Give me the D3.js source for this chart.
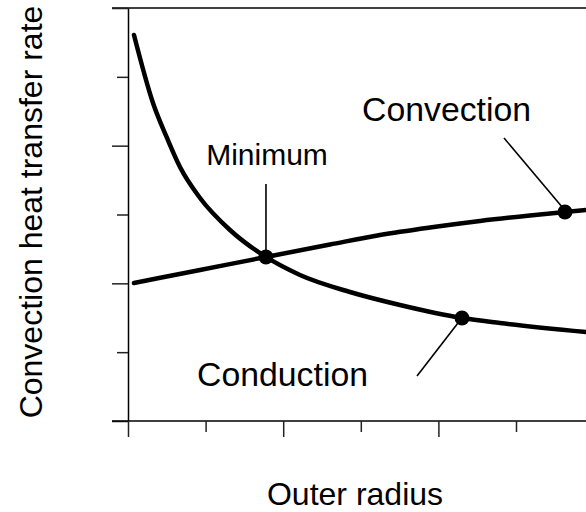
<!DOCTYPE html>
<html><head><meta charset="utf-8">
<script src="https://cdn.jsdelivr.net/npm/d3@7"></script>
<style>body{margin:0;background:#fff}svg{display:block}text{font-family:"Liberation Sans",Arial,sans-serif;fill:#000}</style>
</head><body><svg id="c" width="586" height="512"></svg>
<script>
// Data (arbitrary units)
const conductionX = [0.077,0.322,0.503,0.670,0.928,1.314,1.778,2.216,2.861,3.505,4.304,4.794,5.902];
const conductionY = [5.608,4.620,4.112,3.690,3.240,2.775,2.383,2.121,1.874,1.685,1.496,1.424,1.293];
const convectionX = [0.077,0.928,1.778,2.603,3.247,3.892,4.536,5.180,5.631,5.902];
const convectionY = [2.005,2.194,2.383,2.564,2.702,2.811,2.906,2.986,3.036,3.065];
const markerX = [1.778,4.304,5.631];
const markerY = [2.383,1.496,3.036];
const xTicks = [0,1,2,3,4,5,6];
const yTicks = [0,1,2,3,4,5,6];
const labels = ["Minimum","Conduction","Convection"];
const xTitle = "Outer radius";
const yTitle = "Convection heat transfer rate";

const svg = d3.select("#c");
const x = d3.scaleLinear().domain([0,6]).range([128,593.6]);
const y = d3.scaleLinear().domain([0,6]).range([421,8]);

// top border
svg.append("line").attr("x1",112).attr("x2",586).attr("y1",y(6)).attr("y2",y(6))
  .attr("stroke","#000").attr("stroke-width",1.5);

// y axis
const ya = svg.append("g").attr("transform",`translate(${x(0)},0)`)
  .call(d3.axisLeft(y).tickValues(yTicks).tickFormat("").tickSizeOuter(0));
ya.select(".domain").attr("stroke","#000").attr("stroke-width",1.5);
ya.selectAll(".tick line").attr("x2",d=>d%2===0?-16:-11).attr("stroke","#222").attr("stroke-width",1.5);

// x axis
const xa = svg.append("g").attr("transform",`translate(0,${y(0)})`)
  .call(d3.axisBottom(x).tickValues(xTicks).tickFormat("").tickSizeOuter(0));
xa.select(".domain").attr("d",`M112,0H586`).attr("stroke","#000").attr("stroke-width",1.5);
xa.selectAll(".tick line").attr("y2",d=>d%2===0?16:11).attr("stroke","#222").attr("stroke-width",1.5);

const line = d3.line().x(d=>x(d[0])).y(d=>y(d[1])).curve(d3.curveMonotoneX);
svg.append("path").attr("d",line(conductionX.map((v,i)=>[v,conductionY[i]])))
  .attr("fill","none").attr("stroke","#000").attr("stroke-width",4.5).attr("stroke-linecap","round");
svg.append("path").attr("d",line(convectionX.map((v,i)=>[v,convectionY[i]])))
  .attr("fill","none").attr("stroke","#000").attr("stroke-width",4.5).attr("stroke-linecap","round");

// leader lines
const leaders = [
  [x(markerX[0]), 184, x(markerX[0]), y(markerY[0])],
  [417, 376, x(markerX[1])-4, y(markerY[1])+5],
  [504, 138, x(markerX[2])-2, y(markerY[2])-4]
];
svg.selectAll(".lead").data(leaders).join("line").attr("class","lead")
  .attr("x1",d=>d[0]).attr("y1",d=>d[1]).attr("x2",d=>d[2]).attr("y2",d=>d[3])
  .attr("stroke","#000").attr("stroke-width",1.6);

svg.selectAll(".dot").data(markerX).join("circle").attr("class","dot")
  .attr("cx",d=>x(d)).attr("cy",(d,i)=>y(markerY[i])).attr("r",7.5).attr("fill","#000");

// labels
svg.append("text").attr("x",267).attr("y",165).attr("text-anchor","middle").attr("font-size",30).text(labels[0]);
svg.append("text").attr("x",197).attr("y",386).attr("font-size",33.8).text(labels[1]);
svg.append("text").attr("x",362).attr("y",121).attr("font-size",33.8).text(labels[2]);

svg.append("text").attr("x",355).attr("y",505).attr("text-anchor","middle").attr("font-size",32).text(xTitle);
svg.append("text").attr("transform","translate(42,212) rotate(-90)").attr("text-anchor","middle").attr("font-size",32).text(yTitle);
</script></body></html>
